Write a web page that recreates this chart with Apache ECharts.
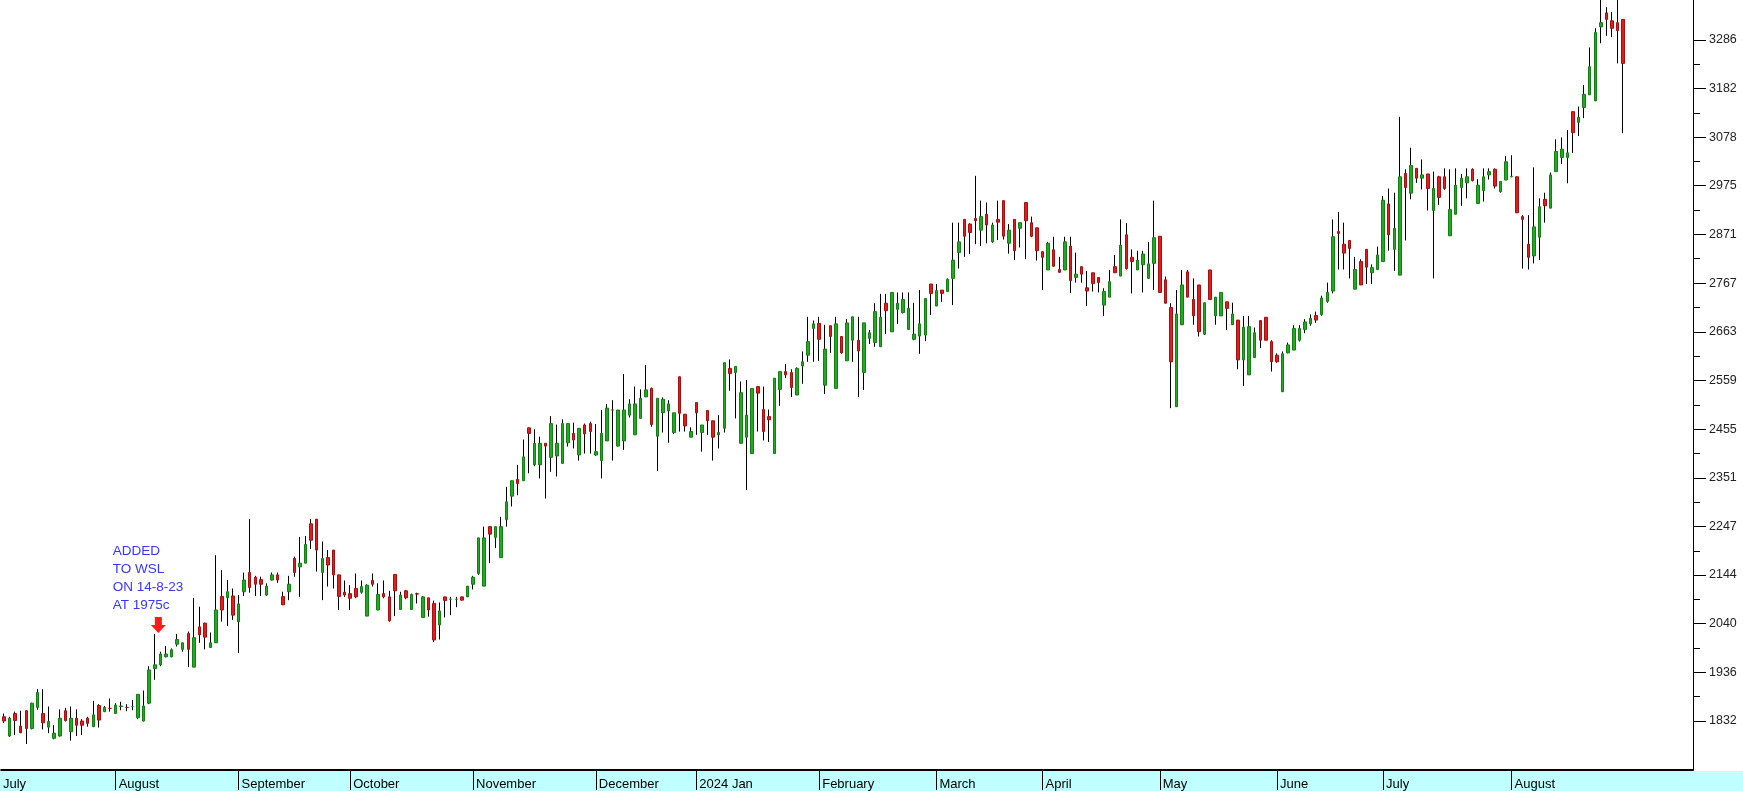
<!DOCTYPE html>
<html><head><meta charset="utf-8">
<script src="https://cdn.jsdelivr.net/npm/echarts@6/dist/echarts.min.js"></script>
<style>html,body{margin:0;padding:0;background:#fff}#c{width:1743px;height:791px}</style>
</head><body><div id="c"></div><script>
const monthNames = ['July','August','September','October','November','December','2024 Jan','February','March','April','May','June','July','August'];
const monthDays = [20,22,20,22,22,18,22,21,19,21,21,19,23,21];
const yTickLabels = [1832,1936,2040,2144,2247,2351,2455,2559,2663,2767,2871,2975,3078,3182,3286];
// [open, close, low, high]
const candles = [
[1841,1832,1828,1848],[1800,1838,1798,1841],[1848,1833,1802,1852],[1821,1807,1806,1854],[1854,1816,1783,1855],
[1816,1870,1814,1871],[1861,1893,1856,1900],[1848,1828,1814,1900],[1819,1831,1806,1863],[1795,1806,1793,1823],
[1800,1838,1799,1857],[1854,1833,1831,1860],[1809,1838,1790,1863],[1838,1823,1800,1857],[1832,1823,1802,1836],
[1838,1827,1820,1841],[1820,1845,1819,1875],[1865,1834,1818,1868],[1852,1861,1851,1864],[1859,1859,1852,1880],
[1848,1866,1847,1870],[1863,1864,1855,1873],[1861,1861,1853,1868],[1863,1863,1855,1877],[1839,1889,1836,1889],
[1832,1864,1831,1897],[1870,1941,1868,1949],[1944,1952,1920,2018],[1952,1975,1949,1980],[1969,1975,1968,1992],
[1969,1984,1968,1987],[1996,2006,1991,2018],[1985,1999,1980,1999],[2019,1985,1947,2023],[1947,2010,1947,2095],
[2033,2016,1999,2076],[2041,2011,1985,2042],[1989,1999,1989,2021],[1999,2069,1999,2186],[2098,2069,2044,2154],
[2095,2108,2035,2133],[2099,2058,2048,2115],[2044,2082,1977,2101],[2108,2133,2099,2149],[2149,2117,2106,2263],
[2139,2124,2099,2142],[2134,2124,2099,2140],[2101,2120,2099,2126],[2133,2144,2132,2149],[2144,2133,2127,2149],
[2098,2080,2080,2108],[2108,2124,2090,2142],[2179,2149,2140,2183],[2161,2169,2097,2225],[2169,2209,2169,2227],
[2253,2218,2199,2263],[2263,2197,2151,2263],[2149,2179,2090,2215],[2181,2165,2119,2197],[2197,2144,2115,2197],
[2144,2098,2069,2144],[2107,2101,2097,2132],[2104,2094,2069,2122],[2115,2097,2094,2147],[2107,2119,2104,2132],
[2056,2122,2056,2124],[2132,2124,2119,2147],[2069,2102,2069,2126],[2104,2097,2094,2132],[2097,2046,2044,2110],
[2145,2110,2056,2145],[2070,2101,2069,2108],[2110,2095,2092,2112],[2070,2102,2069,2104],[2104,2103,2083,2106],
[2053,2097,2053,2099],[2095,2069,2055,2095],[2083,2005,2001,2089],[2037,2067,2006,2085],[2097,2089,2053,2097],
[2092,2092,2058,2097],[2092,2092,2075,2097],[2097,2090,2089,2097],[2097,2120,2097,2120],[2124,2139,2113,2142],
[2147,2223,2144,2223],[2120,2223,2120,2247],[2247,2231,2169,2247],[2224,2247,2201,2247],[2181,2247,2181,2268],
[2262,2300,2247,2332],[2312,2345,2290,2345],[2348,2339,2314,2379],[2345,2396,2345,2433],[2458,2446,2361,2458],
[2379,2425,2376,2455],[2379,2425,2350,2439],[2425,2419,2307,2425],[2395,2467,2364,2483],[2398,2425,2354,2465],
[2382,2467,2382,2476],[2426,2467,2418,2467],[2446,2432,2414,2469],[2400,2457,2388,2457],[2464,2445,2403,2467],
[2467,2450,2403,2471],[2400,2407,2398,2466],[2388,2446,2350,2496],[2430,2500,2430,2509],[2496,2496,2388,2517],
[2419,2496,2418,2496],[2430,2496,2411,2573],[2485,2509,2480,2519],[2443,2509,2443,2546],[2478,2521,2478,2540],
[2524,2539,2524,2592],[2542,2465,2460,2544],[2440,2521,2366,2521],[2490,2519,2448,2523],[2494,2509,2426,2517],
[2448,2490,2445,2490],[2567,2489,2450,2567],[2487,2462,2450,2487],[2438,2450,2438,2459],[2512,2490,2443,2512],
[2448,2464,2407,2464],[2495,2473,2443,2495],[2473,2438,2388,2473],[2443,2448,2414,2485],[2457,2597,2448,2597],
[2585,2574,2537,2604],[2576,2589,2478,2589],[2425,2533,2425,2557],[2438,2485,2325,2560],[2403,2542,2403,2542],
[2546,2532,2450,2546],[2497,2450,2431,2546],[2482,2475,2428,2497],[2403,2564,2403,2564],[2540,2578,2505,2578],
[2578,2571,2564,2594],[2576,2544,2524,2583],[2528,2585,2528,2587],[2590,2599,2552,2621],[2613,2642,2599,2695],
[2670,2680,2599,2687],[2681,2647,2601,2695],[2549,2626,2530,2678],[2676,2653,2618,2676],[2542,2680,2542,2695],
[2653,2618,2616,2653],[2601,2682,2601,2690],[2645,2695,2599,2695],[2645,2622,2524,2695],[2576,2682,2539,2682],
[2649,2661,2637,2667],[2640,2706,2631,2724],[2631,2694,2631,2744],[2724,2708,2658,2744],[2663,2747,2663,2747],
[2711,2724,2680,2747],[2704,2732,2702,2747],[2668,2713,2668,2747],[2647,2658,2645,2725],[2654,2680,2616,2752],
[2656,2734,2643,2734],[2765,2745,2699,2765],[2718,2751,2718,2765],[2752,2745,2727,2752],[2749,2775,2749,2777],
[2777,2816,2720,2896],[2832,2855,2798,2896],[2903,2867,2823,2903],[2893,2875,2829,2895],[2905,2900,2850,2996],
[2880,2909,2846,2943],[2914,2891,2852,2939],[2855,2891,2853,2896],[2903,2897,2859,2943],[2943,2867,2860,2943],
[2852,2880,2830,2893],[2903,2836,2816,2903],[2884,2896,2843,2896],[2939,2900,2818,2939],[2896,2867,2865,2909],
[2885,2836,2815,2885],[2834,2822,2752,2834],[2795,2852,2795,2855],[2838,2803,2802,2866],[2796,2790,2790,2823],
[2795,2855,2795,2866],[2846,2772,2746,2866],[2779,2786,2768,2832],[2802,2786,2768,2802],[2757,2750,2718,2793],
[2789,2766,2749,2789],[2779,2768,2747,2779],[2720,2749,2697,2756],[2737,2770,2737,2795],[2802,2789,2789,2827],
[2782,2848,2782,2903],[2870,2798,2796,2895],[2822,2813,2745,2839],[2795,2816,2795,2836],[2806,2829,2747,2836],
[2777,2808,2777,2855],[2809,2864,2752,2943],[2867,2747,2747,2867],[2774,2724,2724,2781],[2715,2599,2500,2724],
[2503,2701,2503,2752],[2678,2763,2678,2795],[2791,2737,2737,2795],[2732,2697,2678,2777],[2763,2663,2653,2763],
[2658,2725,2656,2725],[2795,2732,2732,2795],[2697,2737,2678,2737],[2697,2747,2697,2747],[2727,2713,2667,2727],
[2678,2701,2678,2725],[2688,2603,2583,2688],[2603,2673,2547,2697],[2571,2674,2571,2697],[2608,2661,2608,2672],
[2687,2645,2628,2688],[2694,2645,2645,2694],[2642,2599,2578,2645],[2613,2599,2597,2617],[2535,2616,2535,2621],
[2618,2635,2617,2640],[2624,2670,2624,2677],[2645,2670,2642,2677],[2668,2684,2660,2690],[2680,2692,2676,2700],
[2698,2688,2682,2706],[2700,2735,2697,2740],[2728,2747,2725,2768],[2750,2866,2745,2903],[2877,2873,2796,2919],
[2850,2831,2796,2896],[2858,2841,2777,2858],[2754,2796,2754,2823],[2813,2763,2763,2818],[2839,2801,2765,2839],
[2789,2800,2765,2807],[2796,2827,2796,2845],[2813,2944,2813,2953],[2936,2870,2836,2969],[2839,2884,2793,2960],
[2784,2994,2784,3122],[3001,2971,2858,3010],[2959,3018,2946,3056],[3012,2991,2981,3012],[2991,2998,2967,3031],
[3000,2969,2922,3000],[2922,2969,2777,3005],[2994,2950,2934,2996],[2994,2969,2966,3012],[2868,2924,2868,3010],
[2914,2976,2914,3012],[2971,2991,2932,3000],[2981,2994,2948,3012],[3010,2986,2984,3012],[2937,2976,2937,2989],
[2964,2994,2941,3012],[2998,3005,2988,3012],[3010,2974,2969,3012],[2962,2984,2960,2984],[2987,3026,2987,3038],
[2994,2995,2993,3040],[2994,2917,2917,2994],[2909,2903,2798,2912],[2850,2822,2796,2912],[2825,2887,2809,3014],
[2865,2930,2816,2948],[2946,2932,2896,2960],[2927,2998,2927,3003],[3005,3048,3005,3074],[3035,3053,3021,3078],
[3035,3045,2980,3094],[3133,3088,3045,3133],[3110,3121,3081,3144],[3142,3170,3119,3190],[3169,3229,3169,3270],
[3156,3302,3156,3311],[3314,3323,3279,3385],[3344,3330,3295,3356],[3327,3311,3292,3346],[3323,3306,3236,3385],
[3330,3236,3087,3330]
];
const padSlots = 12;
const annotationText = 'ADDED\nTO WSL\nON 14-8-23\nAT 1975c';
const arrowIndex = 28;

const cats = [];
const monthStart = new Set();
monthNames.forEach((name, m) => {
  for (let d = 0; d < monthDays[m]; d++) {
    if (d === 0) monthStart.add(cats.length);
    cats.push(m + '|' + d);
  }
});
for (let k = 0; k < padSlots; k++) cats.push('pad' + k);

const minorTicks = yTickLabels.slice(1).map((v, i) => (v + yTickLabels[i]) / 2);
const wicks = candles.map(c => [c[0], c[1], c[2], c[3]]);
const bodies = candles.map(c => [c[0], c[1], Math.min(c[0], c[1]), Math.max(c[0], c[1])]);
const yMin = 1727.4, yMax = 3371.4;
const FONT = '"Liberation Sans", Arial, sans-serif';

const chart = echarts.init(document.getElementById('c'), null, {renderer: 'canvas'});
chart.setOption({
  animation: false,
  backgroundColor: '#ffffff',
  grid: {left: -1.1, right: 50, top: 0, bottom: 21, containLabel: false},
  graphic: [{type: 'rect', left: 0, bottom: 0, z: -10, silent: true,
    shape: {width: 1743, height: 20}, style: {fill: '#c0ffff'}}],
  xAxis: {
    type: 'category', data: cats, boundaryGap: true,
    axisLine: {show: true, onZero: false, lineStyle: {color: '#000', width: 2}},
    axisTick: {show: true, alignWithLabel: true, interval: (i) => i > 0 && monthStart.has(i), length: 20,
      lineStyle: {color: '#000', width: 1}},
    axisLabel: {show: true, interval: (i) => monthStart.has(i),
      formatter: (v) => { const m = +String(v).split('|')[0]; return m === 0 ? '{f|' + monthNames[m] + '}' : '{n|' + monthNames[m] + '}'; },
      align: 'left', margin: 8, color: '#000', fontSize: 13, fontFamily: FONT,
      rich: {f: {fontSize: 13, fontFamily: FONT, color: '#000', padding: [0, 0, 0, -1]},
             n: {fontSize: 13, fontFamily: FONT, color: '#000', padding: [0, 0, 0, 3]}}},
    splitLine: {show: false}
  },
  yAxis: [
    {type: 'value', position: 'right', min: yMin, max: yMax,
     axisLine: {show: true, lineStyle: {color: '#000', width: 1}},
     axisTick: {show: true, length: 13, customValues: yTickLabels, lineStyle: {color: '#000', width: 1}},
     axisLabel: {show: true, customValues: yTickLabels, formatter: (v) => String(Math.round(v)),
       margin: 16, color: '#222', fontSize: 12.5, fontFamily: FONT},
     splitLine: {show: false}},
    {type: 'value', position: 'right', min: yMin, max: yMax,
     axisLine: {show: false},
     axisTick: {show: true, length: 7, customValues: minorTicks, lineStyle: {color: '#000', width: 1}},
     axisLabel: {show: false}, splitLine: {show: false}}
  ],
  series: [
    {type: 'candlestick', name: 'wick', data: wicks, barWidth: 1, clip: true,
     itemStyle: {color: '#000', color0: '#000', borderColor: '#000', borderColor0: '#000', borderWidth: 1}},
    {type: 'candlestick', name: 'body', data: bodies, barWidth: 3, clip: true,
     itemStyle: {color: '#22a922', color0: '#e21c1c', borderColor: '#128012', borderColor0: '#a81010', borderWidth: 1},
     markPoint: {silent: true, animation: false, data: [
       {coord: [cats[arrowIndex], 2037], symbol: 'path://M4,0L11,0L11,8L15,8L7.5,16L0,8L4,8Z', symbolSize: [15, 16],
        symbolOffset: [-2, 0], itemStyle: {color: '#ff1a1a'}, label: {show: false}},
       {coord: [cats[20], 2212.7], symbol: 'circle', symbolSize: 0,
        label: {show: true, position: 'inside', align: 'left', verticalAlign: 'top', offset: [-3, 0],
          formatter: annotationText, color: '#3636ff', fontSize: 13.5, lineHeight: 18, fontFamily: FONT}}
     ]}}
  ]
});
</script></body></html>
